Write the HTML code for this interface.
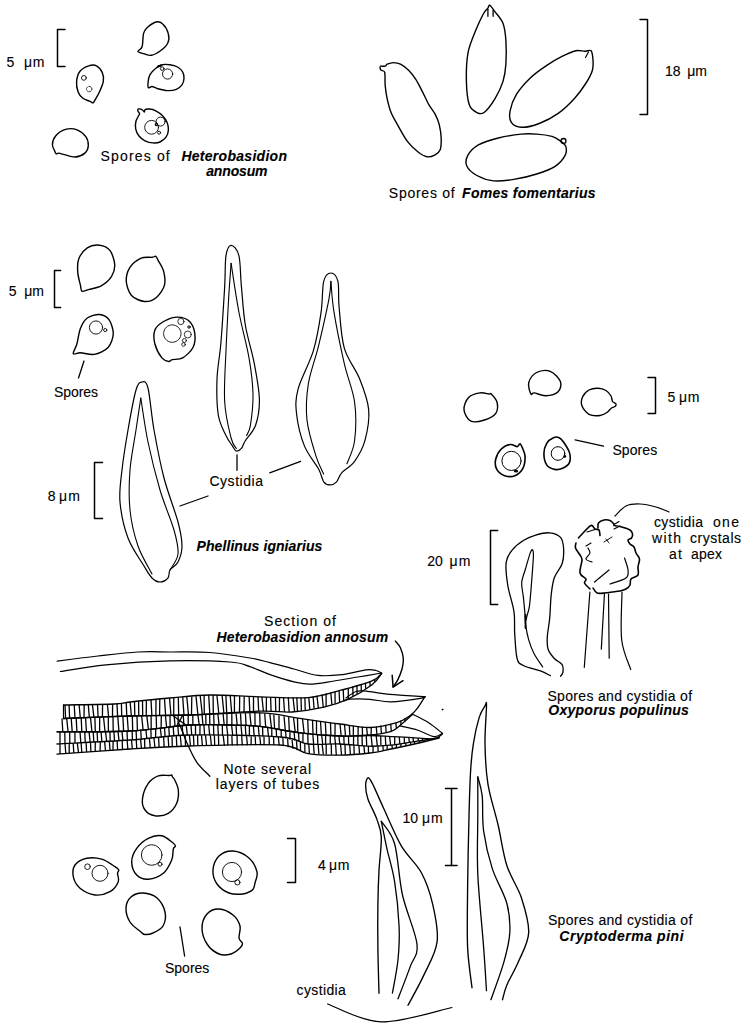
<!DOCTYPE html>
<html><head><meta charset="utf-8"><style>
html,body{margin:0;padding:0;background:#fff;}
body{width:750px;height:1031px;overflow:hidden;}
svg{display:block;}
text{font-family:"Liberation Sans",sans-serif;fill:#000;stroke:#000;stroke-width:0.12px;}
</style></head><body>
<svg width="750" height="1031" viewBox="0 0 750 1031">
<g fill="none" stroke="#000" stroke-linecap="round" stroke-linejoin="round">
<polyline points="65,29.5 57.5,29.5 57.5,66.5 65,66.5" stroke-width="1.5"/>
<path d="M137.9,51.4 C137.6,50.2 141.2,49.7 142.1,46.7 C143,43.8 142.7,36.8 143.5,33.7 C144.3,30.6 144.7,29.9 146.8,28 C148.9,26.1 153.3,22.7 156,22 C158.7,21.3 160.6,21.9 162.7,23.9 C164.8,25.8 167.5,30.5 168.3,33.7 C169.2,36.9 169.1,40.2 167.8,43 C166.6,45.8 163.5,48.5 160.8,50.5 C158.1,52.5 154.3,54.8 151.5,55.3 C148.7,55.8 146.3,54.4 144,53.7 C141.7,53.1 138.2,52.6 137.9,51.4Z" stroke-width="1.4"/>
<path d="M93.1,102.9 C93.8,102.8 93.7,102.3 94.6,100.7 C95.5,99.1 98.1,94.9 99.4,92 C100.7,89.1 102.9,84.2 103.3,81.3 C103.7,78.4 103.3,74.9 102.3,72.6 C101.3,70.3 98.5,66.8 96.5,65.8 C94.5,64.8 91.2,65 88.7,65.8 C86.2,66.6 81.8,68.9 80,71.2 C78.2,73.5 76.9,78.2 76.6,81.3 C76.3,84.4 77.2,89.5 78.1,92 C79,94.5 81.2,96.9 82.9,98.3 C84.6,99.7 88.2,100.5 89.7,101.2 C91.2,101.9 92.4,103 93.1,102.9Z" stroke-width="1.4"/>
<circle cx="83.9" cy="77.9" r="2.4" stroke-width="0.9"/>
<circle cx="89.2" cy="89.1" r="2.7" stroke-width="0.8" stroke-dasharray="1.3 1.2"/>
<path d="M148.4,87.8 C147.8,87.2 147.9,84.3 148.1,82.3 C148.3,80.3 148.8,76.7 150,74.6 C151.2,72.5 154,69.7 155.8,68.2 C157.6,66.7 160.1,65.2 162.2,64.7 C164.3,64.2 167.6,64.4 169.9,64.7 C172.2,65 175.7,65.9 177.6,67 C179.5,68.1 181.7,70.4 182.7,72.1 C183.7,73.8 184.1,76.6 184,78.5 C183.9,80.4 183.2,83.3 182,84.9 C180.8,86.5 178.5,88.5 176.3,89.4 C174.1,90.3 170.1,90.7 167.3,90.6 C164.5,90.5 160,89.3 157.7,88.7 C155.4,88.1 153.4,86.6 152,86.5 C150.6,86.4 149,88.4 148.4,87.8Z" stroke-width="1.4"/>
<circle cx="167.6" cy="74" r="5.1" stroke-width="0.9"/>
<circle cx="162.2" cy="68.6" r="1.8" stroke-width="0.9"/>
<path d="M158,66.5 C158.5,66.3 160.5,65.7 161,65.5" stroke-width="2"/>
<path d="M138.4,109 C138.9,108.9 141.3,109.2 142,109.6 C142.7,109.9 144.1,112 144.4,112 C144.8,112 144.4,109.9 145,109.6 C145.6,109.2 147.9,108.9 149.2,109 C150.5,109.1 154.3,110 155.8,110.8 C157.3,111.6 161.1,114.2 162.4,115.6 C163.7,117 166.5,121.1 167.2,122.8 C167.9,124.5 168.5,128.3 168.4,130 C168.3,131.7 167,135.8 166,137.2 C165,138.6 161.5,141.3 160,142 C158.5,142.7 154.6,143 152.8,142.9 C151.1,142.8 146.6,141.6 145,140.8 C143.4,140 140.1,137.4 139,136 C137.9,134.6 136,130.6 135.7,128.8 C135.3,127.1 135.6,122.6 136,121 C136.4,119.4 138.6,115.8 139,115 C139.4,114.2 139.7,114.3 139.6,113.8 C139.5,113.3 137.9,111.4 137.8,110.8 C137.7,110.2 137.9,109.1 138.4,109Z" stroke-width="1.4"/>
<circle cx="151.6" cy="127.3" r="6.9" stroke-width="0.9"/>
<circle cx="160.6" cy="121.6" r="4.5" stroke-width="0.9"/>
<circle cx="159.1" cy="132.7" r="1.5" stroke-width="0.9"/>
<circle cx="156.4" cy="124.5" r="1.1" stroke-width="1.2"/>
<path d="M56.2,153.8 C55.6,153.5 55.4,152.6 54.8,151.2 C54.2,149.8 52.2,146.7 52.4,144.4 C52.5,142.1 53.8,137.9 55.8,135.7 C57.8,133.4 62.3,130.3 65.5,129.4 C68.7,128.5 74.1,128.7 77.1,129.8 C80.1,130.9 84.1,134.3 85.8,136.6 C87.5,138.9 88.4,142.9 88.3,145.4 C88.2,147.9 86.9,151.4 84.9,153.1 C82.9,154.8 78.3,156.8 75.2,157 C72.1,157.2 67,155.2 64.5,154.6 C62,154 59.9,153.2 58.7,153.1 C57.5,153 56.8,154.1 56.2,153.8Z" stroke-width="1.4"/>
<path d="M380.6,66.2 C381.4,65.9 384.2,66.5 385.2,66.2 C386.2,65.9 386,64.7 387.2,64.2 C388.4,63.7 391.4,62.6 393.4,62.6 C395.4,62.6 398.2,63 400.5,64.2 C402.8,65.4 406.3,68 408.6,70.3 C410.9,72.6 413.8,76.4 415.8,79.4 C417.8,82.4 419.9,86.8 421.9,90.6 C423.9,94.4 427,101.4 429,104.9 C431,108.4 433.6,111.2 435.1,114.1 C436.6,117 438.3,120.6 439.2,124.3 C440.1,128 441.1,134.7 441.2,138.5 C441.3,142.3 441.1,147.3 440.2,149.7 C439.3,152.1 437.1,153.7 435.1,154.8 C433.1,155.9 429.6,157.2 427,156.8 C424.4,156.4 420.7,154.1 417.8,151.8 C414.9,149.5 410.3,145.1 407.6,141.6 C404.9,138.1 401.9,132.6 399.5,128.3 C397.1,124 393.1,117.5 391.3,113.1 C389.5,108.7 388.1,102.9 387.2,98.8 C386.3,94.7 385.6,89.6 385.2,85.6 C384.8,81.6 385.3,74.6 384.7,72.3 C384.1,70 381.8,70.9 381.1,70.3 C380.4,69.7 380.2,68.8 380.1,68.2 C380,67.6 379.8,66.5 380.6,66.2Z" stroke-width="1.4"/>
<path d="M489.7,5.2 C490.8,5.7 492.9,8.9 494.9,11.6 C496.9,14.3 501.4,18.9 503,23.3 C504.6,27.7 505.5,34.6 505.9,40.7 C506.3,46.8 506.3,57.9 505.9,64 C505.5,70.1 504.6,76.2 503,81.4 C501.4,86.6 497.7,94.2 494.9,98.8 C492.1,103.4 487,110.1 484.4,112.2 C481.8,114.3 479.7,113.9 477.4,112.8 C475.1,111.7 470.9,109.4 469.3,104.7 C467.7,100 466.6,89.3 466.4,81.4 C466.2,73.5 466.6,60.1 468.1,52.3 C469.6,44.5 474,34.8 476.3,29.1 C478.6,23.4 481.6,17.1 483.3,14 C485,10.8 486.9,9.4 487.9,8.1 C488.9,6.8 488.6,4.7 489.7,5.2Z" stroke-width="1.4"/>
<line x1="487.9" y1="9.3" x2="487.9" y2="16.3" stroke-width="1.3"/>
<line x1="493.1" y1="10.5" x2="493.1" y2="16.3" stroke-width="1.3"/>
<path d="M591.1,50.7 C592.3,52 592.8,57.3 593,60.2 C593.2,63.1 593.4,66.9 592.4,70.3 C591.4,73.7 588.8,78.8 586.1,83 C583.4,87.2 578.9,93.6 574.7,98.2 C570.5,102.8 563.5,109.6 558.2,113.4 C552.9,117.2 544.7,121.4 539.2,123.5 C533.7,125.6 525.7,127.5 521.5,127.3 C517.3,127.1 513,124.8 511.3,122.3 C509.6,119.8 509.3,115.1 510.1,110.9 C510.9,106.7 513.4,99.4 516.4,94.4 C519.4,89.5 525.7,82.3 530.3,77.9 C534.9,73.5 542,68.5 546.8,65.3 C551.6,62.1 557.6,58.6 562,56.4 C566.4,54.2 572.5,51.5 575.9,50.7 C579.3,49.9 582.5,51.3 584.8,51.3 C587.1,51.3 589.9,49.4 591.1,50.7Z" stroke-width="1.4"/>
<line x1="588.5" y1="52" x2="585.5" y2="57.5" stroke-width="1.2"/>
<path d="M560.4,141 C558.3,139.5 555.6,137.4 552,136.4 C548.4,135.4 541.3,134.4 536.7,134.1 C532.1,133.8 527.1,133.5 521.3,134.1 C515.5,134.7 504.7,136.4 498.3,138 C491.9,139.6 483,142.3 478.4,144.9 C473.8,147.5 469.4,152.4 467.7,155.6 C466,158.8 465.5,163.3 466.9,166.3 C468.3,169.3 472.9,173.3 476.9,175.5 C480.9,177.7 488.2,180.3 493.7,180.9 C499.2,181.5 507.3,180.4 513.7,179.4 C520.2,178.4 530.5,176 536.7,174 C542.9,172 550.9,169.1 555.1,166.3 C559.3,163.5 563.4,158.6 565,155.6 C566.6,152.6 566.5,148.6 565.8,146.4 C565.1,144.2 562.5,142.5 560.4,141Z" stroke-width="1.4"/>
<circle cx="563.5" cy="141" r="2.5" stroke-width="1.3"/>
<polyline points="640,19.5 647.5,19.5 647.5,114.5 640,114.5" stroke-width="1.5"/>
<polyline points="60.6,270.5 54.5,270.5 54.5,307.5 60.6,307.5" stroke-width="1.5"/>
<path d="M82.1,291.3 C80.8,290.7 81,287.9 80.4,285.1 C79.8,282.3 78.1,276.8 77.8,272.9 C77.5,269 77.3,262.9 78.7,259.1 C80.1,255.3 84.2,249.9 87.3,247.8 C90.4,245.7 96.1,244.8 99.5,245.2 C102.9,245.6 107.6,247.5 109.9,250.4 C112.2,253.3 114.4,260.4 114.7,264.3 C115,268.2 113.6,273.2 111.6,276.4 C109.6,279.6 104.6,283.9 101.2,285.9 C97.8,287.8 92,288.6 89.1,289.4 C86.2,290.2 83.4,291.9 82.1,291.3Z" stroke-width="1.4"/>
<path d="M155.8,256.3 C156.7,256.8 157.2,258.6 158.4,260.8 C159.6,263 162.7,267.6 163.6,271.2 C164.5,274.8 165.5,281.2 164.5,285.1 C163.5,289 159.7,294.7 156.7,297.2 C153.7,299.7 148.3,301.8 144.5,301.5 C140.7,301.2 134.2,298.5 131.5,295.5 C128.8,292.5 126.6,285.8 126.3,281.6 C126,277.4 127.6,271.2 129.8,267.7 C132,264.2 137.7,259.8 141.1,258.2 C144.5,256.6 150.1,257.6 152.3,257.3 C154.5,257 154.9,255.8 155.8,256.3Z" stroke-width="1.4"/>
<path d="M73.3,353.7 C72.8,352.4 75.8,347.8 76.9,344 C78,340.2 78.8,332.3 80.4,328.4 C82,324.5 84.4,320.1 87.3,318 C90.2,315.9 96.2,314.2 99.5,314.5 C102.8,314.8 106.9,316.8 109,319.7 C111.1,322.6 113.4,329.4 113.3,333.6 C113.2,337.8 110.9,344.4 108.1,347.5 C105.2,350.6 98.5,353.6 94.3,354.4 C90.1,355.2 83.6,352.8 80.4,352.7 C77.2,352.6 73.8,355 73.3,353.7Z" stroke-width="1.4"/>
<circle cx="96" cy="327.5" r="6.6" stroke-width="0.9"/>
<circle cx="105.2" cy="330.1" r="1.6" stroke-width="0.9"/>
<path d="M168.8,361.5 C167.2,361.2 164,360.5 161.9,357.9 C159.8,355.3 156,348.2 154.9,344 C153.8,339.8 153.6,333.5 154.9,330.1 C156.2,326.7 160.2,323.4 163.6,321.5 C167,319.6 173.6,317.1 177.5,317.1 C181.4,317.1 187,319 189.6,321.5 C192.2,324 194.3,329.7 194.8,333.6 C195.3,337.5 194.8,343.9 193,347.5 C191.2,351.1 185.8,356.1 182.7,357.9 C179.6,359.7 174.4,359.1 172.3,359.6 C170.2,360.1 170.4,361.8 168.8,361.5Z" stroke-width="1.4"/>
<circle cx="172.3" cy="333.6" r="8.7" stroke-width="0.9" stroke-dasharray="2.5 0.8"/>
<circle cx="187.8" cy="334.5" r="3.5" stroke-width="0.8"/>
<circle cx="180.9" cy="321.5" r="3.1" stroke-width="0.8"/>
<circle cx="184.4" cy="340.5" r="2" stroke-width="0.8"/>
<circle cx="183.5" cy="344.5" r="1.8" stroke-width="0.8"/>
<circle cx="189" cy="327" r="1.2" stroke-width="1"/>
<line x1="84" y1="361" x2="78.5" y2="378" stroke-width="1.3"/>
<path d="M231.1,245.3 C233.2,245.3 237.2,248.8 238.9,255.6 C240.6,262.4 240.3,274.8 241.4,286.4 C242.5,298 243.2,312.1 245.3,325 C247.5,337.9 252,351.2 254.3,363.6 C256.6,376 259.2,389.3 259.4,399.6 C259.6,409.9 257.9,418.5 255.6,425.3 C253.2,432.1 247.7,436.9 245.3,440.7 C242.9,444.5 242.9,446.7 241.4,448.4 C239.9,450.1 237.8,451.4 236.3,451 C234.8,450.6 234.1,448.5 232.4,445.9 C230.7,443.3 228.3,440.8 226,435.6 C223.7,430.5 219.8,424.4 218.3,415 C216.8,405.6 216.6,391 217,379 C217.4,367 219.6,358.4 220.9,343 C222.2,327.6 223.8,301 224.7,286.4 C225.5,271.8 224.9,262.4 226,255.6 C227.1,248.8 228.9,245.3 231.1,245.3Z" stroke-width="1.2"/>
<path d="M231.1,263.3 C230.7,269.3 229.4,284.7 228.6,299.3 C227.8,313.9 226.7,333.6 226,350.7 C225.3,367.8 223.8,387.4 224.7,402 C225.5,416.6 229.2,430.3 231.1,438 C233,445.7 235.4,446.7 236.3,448.4" stroke-width="1.1"/>
<path d="M231.1,263.3 C232.4,271.4 235.9,296.1 238.9,312 C241.9,327.9 246.8,344.7 249.1,358.4 C251.4,372.1 252.8,383.2 253,394.4 C253.2,405.5 251.5,418.4 250.4,425.3 C249.3,432.2 247.2,433.9 246.6,435.6" stroke-width="1.1"/>
<path d="M330.9,273 C333.3,273 336.5,275.6 337.9,281.3 C339.3,287 338,295.9 339.1,307 C340.2,318.1 340.9,336.1 344.3,348.1 C347.7,360.1 355.6,368.7 359.7,379 C363.8,389.3 367.8,399.6 368.7,409.9 C369.6,420.2 367.2,432.1 364.9,440.7 C362.5,449.3 358.5,455.9 354.6,461.3 C350.7,466.7 344.7,469.4 341.7,472.8 C338.7,476.2 338.5,479.8 336.6,481.8 C334.7,483.8 332.2,484.9 330.1,484.9 C328,484.9 325.6,484.4 323.7,481.8 C321.8,479.2 321.8,475 318.6,469 C315.4,463 308,454.9 304.4,445.9 C300.8,436.9 297.8,424.4 296.7,415 C295.6,405.6 295.2,400 298,389.3 C300.8,378.6 309.5,363.6 313.4,350.7 C317.2,337.8 319.4,323.7 321.1,312.1 C322.8,300.5 322.1,287.8 323.7,281.3 C325.3,274.8 328.5,273 330.9,273Z" stroke-width="1.2"/>
<path d="M330.9,281.3 C330.6,284.3 330.9,288.6 328.9,299.3 C326.8,310 322,331.5 318.6,345.6 C315.2,359.7 310.2,371.7 308.3,384.1 C306.4,396.5 305.7,408.1 307,420.1 C308.3,432.1 313.2,447.1 316,456.1 C318.8,465.1 322.4,471.1 323.7,474.1" stroke-width="1.1"/>
<path d="M330.9,281.3 C331.4,286.4 331.8,298.4 334,312.1 C336.2,325.8 340.9,348.6 344.3,363.6 C347.7,378.6 352.9,389.2 354.6,402.1 C356.3,415 355.9,430.4 354.6,440.7 C353.3,451 348.2,459.9 346.9,463.8" stroke-width="1.1"/>
<path d="M142,382 C144,381.7 146,380 148,388 C150,396 151.3,415 154,430 C156.7,445 160,462.7 164,478 C168,493.3 175,510.7 178,522 C181,533.3 182,539.3 182,546 C182,552.7 180,558 178,562 C176,566 171.7,567.3 170,570 C168.3,572.7 169.7,576 168,578 C166.3,580 162.7,582 160,582 C157.3,582 154.7,580.7 152,578 C149.3,575.3 148,572.7 144,566 C140,559.3 132,548.7 128,538 C124,527.3 121,513.3 120,502 C119,490.7 120.7,482 122,470 C123.3,458 125.7,443.3 128,430 C130.3,416.7 133.7,398 136,390 C138.3,382 140,382.3 142,382Z" stroke-width="1.2"/>
<path d="M140.8,398 C140,403.3 137.8,418 136,430 C134.2,442 131,456.7 130,470 C129,483.3 128.7,497.3 130,510 C131.3,522.7 134.3,535.3 138,546 C141.7,556.7 149.7,569.3 152,574" stroke-width="1.1"/>
<path d="M140.8,398 C142,405.3 144.8,426.7 148,442 C151.2,457.3 155.7,475.3 160,490 C164.3,504.7 171,519.3 174,530 C177,540.7 178.7,547.3 178,554 C177.3,560.7 171.3,567.3 170,570" stroke-width="1.1"/>
<line x1="237" y1="454.8" x2="237" y2="470.3" stroke-width="1.3"/>
<line x1="269.7" y1="472.8" x2="300.6" y2="461.3" stroke-width="1.3"/>
<line x1="180" y1="506" x2="208" y2="496" stroke-width="1.3"/>
<polyline points="102.5,462.5 94.5,462.5 94.5,518.5 102.5,518.5" stroke-width="1.5"/>
<path d="M491.3,394 C492.6,395.3 496.2,398.8 497,402 C497.8,405.2 497.9,410.3 495.8,413.3 C493.7,416.3 488.6,418.7 484.5,420 C480.4,421.3 474.3,422.9 470.9,421.2 C467.5,419.5 464.4,413.9 464,409.9 C463.6,405.9 465.9,400.2 468.6,397.4 C471.3,394.6 476.6,393.5 480,392.9 C483.4,392.3 487.1,393.8 489,394 C490.9,394.2 490,392.7 491.3,394Z" stroke-width="1.4"/>
<path d="M530.9,394 C530,392.3 527.8,386.3 528.7,382.7 C529.7,379.1 533,374.4 536.6,372.5 C540.2,370.6 546.2,369.8 550.2,371.3 C554.2,372.8 559.1,378.1 560.4,381.5 C561.7,384.9 560.5,389.3 558.1,391.7 C555.7,394.1 549.7,395.6 545.7,395.8 C541.7,396 536.8,393.2 534.3,392.9 C531.8,392.6 531.8,395.7 530.9,394Z" stroke-width="1.4"/>
<path d="M612.5,401.5 C613.2,402.7 615.6,403.2 616,404 C616.4,404.8 615.7,405.9 615,406.5 C614.3,407.1 612.7,407.1 611.5,408 C610.3,408.9 608.7,411.4 607,412.5 C605.3,413.6 602.7,415.2 600,415.5 C597.3,415.8 591.7,415.8 589,414.4 C586.3,413 583,408.6 582,406 C581,403.4 581.5,399.4 582.5,397 C583.5,394.6 586.7,391.3 589,390 C591.3,388.7 595.5,388.2 598,388.3 C600.5,388.4 604,389.3 606,390.5 C608,391.7 610,394.4 611,396 C612,397.6 611.8,400.3 612.5,401.5Z" stroke-width="1.4"/>
<path d="M520,443.7 C519.1,443.4 518.6,446.6 517.2,446.7 C515.8,446.8 512.8,444.2 510.4,444.5 C508,444.8 503.5,446.8 501.3,449 C499.1,451.2 496.4,456.1 495.7,459.2 C495,462.3 495.4,466.9 496.8,469.4 C498.2,471.9 502,474.8 504.7,475.7 C507.4,476.6 512.2,476.8 514.9,475.7 C517.6,474.6 521.4,471.1 522.9,468.3 C524.4,465.5 525.1,459.8 525.1,456.9 C525.1,454 523.7,451 522.9,449 C522.1,447 520.9,444 520,443.7Z" stroke-width="1.6"/>
<circle cx="511.5" cy="460.9" r="9.6" stroke-width="1.0"/>
<ellipse cx="516" cy="471" rx="2.2" ry="1.6" fill="#000" stroke="none"/>
<path d="M559.2,437.7 C560.7,438.4 562.2,440 563.7,442.2 C565.2,444.4 568.5,449.3 569.4,452.4 C570.3,455.5 570.4,460.2 569.4,462.6 C568.4,465 564.8,467.3 562.6,468.3 C560.4,469.3 557,469.9 554.6,469.4 C552.2,468.9 548.3,467.3 546.7,464.9 C545.1,462.5 543.9,456.7 543.9,453.5 C543.9,450.3 545.3,445.7 546.7,443.3 C548.1,440.9 551.6,438.5 553.5,437.7 C555.4,436.9 557.7,437 559.2,437.7Z" stroke-width="1.6"/>
<circle cx="558" cy="453.5" r="6.8" stroke-width="1.0"/>
<circle cx="564.8" cy="456.4" r="1.4" fill="#000" stroke="none"/>
<line x1="575.1" y1="439.8" x2="603.5" y2="446.1" stroke-width="1.3"/>
<polyline points="648,377.5 655.5,377.5 655.5,413.5 648,413.5" stroke-width="1.5"/>
<polyline points="497.7,530.5 490.5,530.5 490.5,604.5 497.7,604.5" stroke-width="1.5"/>
<path d="M550.4,675.6 C548.7,674.8 544.9,672.6 540.4,670.9 C535.9,669.2 527.2,667.6 523.3,665.5 C519.4,663.4 518.5,663.8 517.1,658.5 C515.7,653.2 515.2,641.4 514.7,633.6 C514.2,625.8 515.1,619.9 514,611.9 C512.9,603.9 509.1,593.8 507.8,585.5 C506.5,577.2 505.4,568.2 506.2,562.2 C507,556.2 509.5,553.4 512.4,549.8 C515.2,546.2 519.4,543 523.3,540.5 C527.2,538 531.3,536.4 535.7,535.1 C540.1,533.8 545.6,532.4 549.7,532.8 C553.8,533.2 558.2,534.8 560.5,537.4 C562.8,540 563.3,543.9 563.6,548.3 C563.9,552.7 563.7,558.9 562.1,563.8 C560.5,568.7 556.1,572.6 554.3,577.8 C552.5,583 552,588.1 551.2,594.8 C550.4,601.5 550.4,611.1 549.7,618.1 C549.1,625.1 547.6,631.5 547.3,636.7 C547,641.9 546.9,645.6 548.1,649.2 C549.3,652.8 552,655.9 554.3,658.5 C556.6,661.1 560.7,662.4 562.1,664.7 C563.5,667 563.2,670.5 562.9,672.4 C562.6,674.3 560.9,675.6 560.5,676.3" stroke-width="1.3"/>
<path d="M542.7,667 C541.3,664.8 536.4,658.3 534.1,653.8 C531.8,649.3 530.1,644.8 528.7,639.9 C527.3,635 526.2,629 525.6,624.3 C525,619.6 525.2,616.5 524.8,611.9 C524.4,607.2 523.8,601.3 523.3,596.4 C522.8,591.5 521.3,587 521.7,582.4 C522.1,577.8 524.2,573.4 525.6,568.5 C527,563.6 529.1,556 530.3,552.9 C531.5,549.8 532.1,549.3 532.6,549.8 C533.1,550.3 533.5,551.1 533.4,556 C533.3,560.9 532.4,571 531.8,579.3 C531.1,587.6 530.3,599.8 529.5,605.7 C528.7,611.7 527.9,612.4 527.2,615 C526.6,617.6 525.9,620.2 525.6,621.2" stroke-width="1.2"/>
<line x1="525.5" y1="615" x2="525.5" y2="628" stroke-width="1.8"/>
<path d="M578.5,538 C579.2,537.2 580.9,535.1 583,533 C585.1,530.9 589,526.2 591,525.5 C593,524.8 593.7,528.2 595,529 C596.3,529.8 598.2,528.9 599,530 C599.8,531.1 599.8,534.6 600,535.5" stroke-width="1.6"/>
<path d="M598,528 C598.1,527.2 597.5,524.3 598.5,523 C599.5,521.7 602.1,520.4 604,520 C605.9,519.6 608.4,519.9 610,520.5 C611.6,521.1 612.8,522.8 613.5,523.5 C614.2,524.2 613.9,524.8 614,525" stroke-width="1.6"/>
<path d="M614,525.5 C615,525.7 617.3,525.8 620,526.5 C622.7,527.2 627.9,528.8 630,530 C632.1,531.2 632.2,532.7 632.5,534 C632.8,535.3 632.2,537 631.5,538 C630.8,539 628.2,539 628,540 C627.8,541 629,542.8 630,544 C631,545.2 633,545.5 634,547 C635,548.5 635.1,551 636,553 C636.9,555 639.2,556.7 639.5,559 C639.8,561.3 638.2,564.3 638,567 C637.8,569.7 639.2,573 638,575 C636.8,577 632.3,577.3 631,579 C629.7,580.7 630.8,583.3 630,585 C629.2,586.7 627.7,588 626,589 C624.3,590 622.3,590.5 620,591 C617.7,591.5 614.5,591.7 612,592 C609.5,592.3 607.5,592.8 605,593 C602.5,593.2 599,593.8 597,593 C595,592.2 593.7,588.8 593,588" stroke-width="1.6"/>
<path d="M576,543 C575.9,543.8 574.8,546 575.5,548 C576.2,550 578.9,553 580,555 C581.1,557 582,557 582,560 C582,563 579.3,569.8 580,573 C580.7,576.2 585.2,577.3 586,579 C586.8,580.7 583.8,581.3 584.5,583 C585.2,584.7 589.1,588 590,589" stroke-width="1.6"/>
<path d="M587,532 C588.3,531.6 593.7,529.9 595,529.5" stroke-width="1.1"/>
<path d="M586,546 C586.8,545.5 590.2,543.5 591,543" stroke-width="1.1"/>
<path d="M588,548 C588.3,548.8 590.3,551.2 590,553 C589.7,554.8 585.7,557.5 586,559 C586.3,560.5 591,561.5 592,562" stroke-width="1.2"/>
<path d="M604,542 C605.3,541.2 610.7,537.8 612,537" stroke-width="1.0"/>
<path d="M606,539 C606.5,539.7 608.5,542.3 609,543" stroke-width="1.0"/>
<path d="M594.5,582 C596.9,580 606.6,572 609,570" stroke-width="1.2"/>
<path d="M610,584 C612.7,583 623,580.3 626,578 C629,575.7 628.2,573.3 628,570 C627.8,566.7 625.1,560 624.5,558" stroke-width="1.2"/>
<path d="M614,524.5 C614.8,524 618.2,522 619,521.5" stroke-width="1.1"/>
<path d="M614,529 C615,528.5 619,526.5 620,526" stroke-width="1.1"/>
<line x1="589.9" y1="592" x2="584.3" y2="667.3" stroke-width="1.2"/>
<line x1="604.5" y1="593" x2="601.3" y2="649.1" stroke-width="1.2"/>
<line x1="608.5" y1="594" x2="609.2" y2="658.2" stroke-width="1.2"/>
<path d="M622,592 C622,600 620.2,627.1 621.7,640 C623.2,652.9 629.2,664.6 630.7,669.5" stroke-width="1.2"/>
<path d="M615,516 C616.8,514.3 621.8,508 626,506 C630.2,504 635,503.8 640,504 C645,504.2 651.2,505.7 656,507 C660.8,508.3 666.8,511.2 669,512" stroke-width="1.2"/>
<path d="M57.2,661.1 C64,660.2 84.5,657.5 98,656 C111.5,654.5 126,652.7 138,652 C150,651.3 158,651.9 170,652 C182,652.1 196.7,651.5 210,652.5 C223.3,653.5 240,656.3 250,658 C260,659.7 262.7,660.8 270,662.6 C277.3,664.4 286,666.9 294,669 C302,671.1 310,674.5 318,675.4 C326,676.3 334,675.5 342,674.6 C350,673.7 360.3,670.5 366,669.8 C371.7,669.1 373.4,670 376,670.5 C378.6,671 380.7,672.6 381.6,673" stroke-width="1.2"/>
<path d="M60.4,671.5 C68,670.4 87.7,666.6 106,664.8 C124.3,663 149.3,661.3 170,660.8 C190.7,660.3 216.7,661 230,662 C243.3,663 243.3,664.5 250,666.6 C256.7,668.7 262.7,672.1 270,674.6 C277.3,677.1 287.3,680.2 294,681.8 C300.7,683.4 303.3,684.3 310,684.2 C316.7,684.1 326,682.2 334,681 C342,679.8 350.1,678.3 358,677 C365.9,675.7 377.7,673.7 381.6,673" stroke-width="1.2"/>
<path d="M395.4,641.1 C396.2,642.2 399.1,644.9 400.4,647.8 C401.7,650.7 403,654.8 403.3,658.3 C403.6,661.8 403.1,665.1 402.1,668.8 C401.1,672.5 399,677.4 397.5,680.4 C396,683.4 393.8,685.7 393.1,686.8" stroke-width="1.4"/>
<polyline points="392.2,675.2 393.1,687.1 403,680.7" stroke-width="1.5"/>
<circle cx="442.4" cy="709.6" r="0.5" stroke-width="1"/>
<path d="M179.4,724 C180.9,727.6 185.3,739.4 188.2,745.8 C191.1,752.2 193.4,757.5 197,762.6 C200.6,767.7 207.7,773.9 209.8,776.2" stroke-width="1.3"/>
<path d="M171.7,775 C171.1,774.8 171.4,775.4 169.2,775.5 C167,775.6 161.8,774.5 158.3,775.8 C154.8,777.1 150.9,779.5 148.3,783.3 C145.7,787 143.1,793.8 142.5,798.3 C141.9,802.8 142.9,807.1 145,810 C147.1,812.9 151.1,815.2 155,815.8 C158.9,816.3 164.7,815.4 168.3,813.3 C171.9,811.2 175,807.2 176.7,803.3 C178.4,799.4 178.7,794 178.3,790 C177.9,786 175.5,781.7 174.5,779.5 C173.5,777.3 173,777.8 172.5,777 C172,776.2 172.2,775.2 171.7,775Z" stroke-width="1.4"/>
<path d="M175.5,846 C175.4,844.9 174.8,844.2 172.5,842.5 C170.2,840.8 165.7,836.5 161.7,835.8 C157.7,835.1 152.5,836.2 148.3,838.3 C144.1,840.4 139.5,844.4 136.7,848.3 C133.9,852.2 131.7,857.2 131.7,861.7 C131.7,866.2 133.9,872.1 136.7,875 C139.5,877.9 143.9,879.5 148.3,879.2 C152.7,878.9 159.4,876.5 163.3,873.3 C167.2,870.1 170,864 171.7,860 C173.4,856 172.7,851.3 173.3,849 C173.9,846.7 175.6,847.1 175.5,846Z" stroke-width="1.4"/>
<circle cx="151.7" cy="855" r="10.3" stroke-width="0.9"/>
<circle cx="160" cy="864.2" r="2" stroke-width="0.9"/>
<path d="M118.8,870 C118.4,868.9 117.8,868.5 115,866.7 C112.2,864.9 106.4,860.6 101.7,859.2 C97,857.8 91.2,857.3 86.7,858.3 C82.2,859.3 77.2,861.9 75,865 C72.8,868.1 72.5,872.8 73.3,876.7 C74.1,880.6 76.4,885.2 80,888.3 C83.6,891.3 90,894.4 95,895 C100,895.6 106.1,893.9 110,891.7 C113.9,889.5 117,884.8 118.3,881.7 C119.5,878.6 117.4,875.2 117.5,873.3 C117.6,871.3 119.2,871.1 118.8,870Z" stroke-width="1.4"/>
<circle cx="100" cy="873.3" r="8" stroke-width="0.9"/>
<circle cx="87.5" cy="866.7" r="2.8" stroke-width="0.9"/>
<path d="M253.5,888.5 C254.2,887.2 254.4,885.8 255,883 C255.6,880.2 258,876.2 257,872 C256,867.8 253,861.5 249,858 C245,854.5 238,851.3 233,851 C228,850.7 222.3,852.8 219,856 C215.7,859.2 213.3,865.3 213,870 C212.7,874.7 214.3,880.2 217,884 C219.7,887.8 224.7,891.3 229,893 C233.3,894.7 239.3,894.3 243,894 C246.7,893.7 249.2,891.9 251,891 C252.8,890.1 252.8,889.8 253.5,888.5Z" stroke-width="1.4"/>
<circle cx="232" cy="872" r="9.6" stroke-width="0.9"/>
<circle cx="237.4" cy="882.4" r="2.6" stroke-width="0.9"/>
<path d="M145,934.5 C143,934.3 143.5,934.1 141,932 C138.5,929.9 132.5,926 130,922 C127.5,918 125.8,912.2 126,908 C126.2,903.8 128.2,899.5 131,897 C133.8,894.5 138.7,892.8 143,893 C147.3,893.2 153.3,894.8 157,898 C160.7,901.2 164,907.3 165,912 C166,916.7 165,922.5 163,926 C161,929.5 156,931.6 153,933 C150,934.4 147,934.7 145,934.5Z" stroke-width="1.4"/>
<path d="M242.5,943.5 C242.3,941.8 239.4,940.9 239,938 C238.6,935.1 241,929.8 240,926 C239,922.2 236.5,917.8 233,915 C229.5,912.2 223.3,909.2 219,909 C214.7,908.8 209.8,910.8 207,914 C204.2,917.2 202,923 202,928 C202,933 204.2,939.7 207,944 C209.8,948.3 215,952.3 219,954 C223,955.7 227.5,955 231,954 C234.5,953 238.1,949.8 240,948 C241.9,946.2 242.7,945.2 242.5,943.5Z" stroke-width="1.4"/>
<line x1="180" y1="927" x2="184.6" y2="956" stroke-width="1.3"/>
<polyline points="287.5,838.5 295.5,838.5 295.5,882.5 287.5,882.5" stroke-width="1.5"/>
<path d="M327.5,1004 C336.5,1007 360.6,1021.3 381.3,1021.9 C402.1,1022.5 440.2,1009.9 452,1007.5" stroke-width="1.2"/>
<path d="M379,993.2 C378.8,985.8 378.1,963.5 377.9,948.6 C377.7,933.7 377.7,916.9 377.9,903.9 C378.1,890.9 378.4,881.5 379,870.4 C379.6,859.2 381.7,845.5 381.3,837 C380.9,828.5 379,825.4 376.8,819.1 C374.6,812.8 369.8,804.6 367.9,799 C366,793.4 365.6,789.1 365.6,785.6 C365.6,782.1 366.8,778.2 367.9,777.8 C369,777.4 369.7,778.4 372.3,783.4 C374.9,788.4 378.7,797.6 383.5,808 C388.3,818.4 395,835.1 401.3,845.9 C407.6,856.7 416.2,863 421.4,872.7 C426.6,882.4 430,892.4 432.6,903.9 C435.2,915.4 438.6,930 437.1,941.9 C435.6,953.8 428.6,964.8 423.7,975.4 C418.8,986 410.6,1000.3 408,1005.3" stroke-width="1.35"/>
<path d="M381.3,821.3 C382.2,825.8 384.6,838 386.8,848.1 C389,858.2 392.6,868.6 394.6,881.6 C396.7,894.6 398.5,913.3 399.1,926.3 C399.7,939.3 399.1,948.6 398,959.7 C396.9,970.9 393.3,987.6 392.4,993.2" stroke-width="1.3"/>
<path d="M381.3,821.3 C383.5,825 391.1,831.4 394.6,843.7 C398.1,856 398.8,878.3 402.5,895 C406.2,911.7 415.7,932.2 417,944.1 C418.3,956 413.5,957.3 410.3,966.4 C407.1,975.5 400.1,993.4 398,998.8" stroke-width="1.3"/>
<path d="M472,987.8 C471.3,981 468.3,963.6 467.6,947.1 C466.9,930.6 467.4,910.8 467.6,889 C467.8,867.2 468.5,835.7 469,816.3 C469.5,796.9 469.8,784.8 470.5,772.7 C471.2,760.6 471.9,752.8 473.4,743.6 C474.8,734.4 477.3,723.7 479.2,717.4 C481.1,711.1 483.8,707.7 485,705.8 C486.2,703.9 486.5,699.5 486.5,705.8 C486.5,712.1 484.8,730.5 485,743.6 C485.2,756.7 485.8,770.7 488,784.3 C490.2,797.9 495,811.4 498.1,825 C501.2,838.6 503,853.6 506.9,865.7 C510.8,877.8 517.8,886.6 521.4,897.7 C525,908.9 529.2,922 528.7,932.6 C528.2,943.2 522.1,952.9 518.5,961.6 C514.9,970.3 509.6,978.5 506.9,984.9 C504.2,991.2 503.2,997.2 502.5,999.7" stroke-width="1.35"/>
<path d="M477.8,777 C477.8,783.5 477.8,800.1 477.8,816.3 C477.8,832.5 476.8,852.6 477.8,874.4 C478.8,896.2 482.2,927.7 483.6,947.1 C485.1,966.5 486,983.4 486.5,990.7" stroke-width="1.3"/>
<path d="M477.8,777 C478.5,780.1 481.2,786.9 482.2,795.9 C483.2,804.9 481.9,818.7 483.6,830.8 C485.3,842.9 488.4,856.5 492.3,868.6 C496.2,880.7 504,892.8 506.9,903.5 C509.8,914.2 510.3,922.9 509.8,932.6 C509.3,942.3 507.1,950.4 504,961.6 C500.9,972.8 493.1,993.4 490.9,999.7" stroke-width="1.3"/>
<polyline points="445.5,788.5 451.5,788.5 451.5,865.5 445.5,865.5" stroke-width="1.5"/>
<line x1="451.5" y1="788.5" x2="457" y2="788.5" stroke-width="1.5"/>
<line x1="451.5" y1="865.5" x2="457" y2="865.5" stroke-width="1.5"/>
<path d="M65,705L65.6,718.4M69.1,704.9L69.6,718.3M74.2,704.8L75,718.1M79.1,704.7L80.3,717.9M84.2,704.6L84,717.7M88.3,704.5L89.3,717.6M92.4,704.4L93.9,717.4M97.5,704.3L98.1,717.2M102.6,704.2L102.4,717M107.4,704.1L108.6,716.9M112.6,704L112.5,716.7M117,703.6L117.6,716.5M121.4,703.1L121.7,716.3M126.2,702.5L126.8,716.1M130.1,702L131.4,716M134.5,701.6L134.8,715.9M138.6,701.1L138.8,715.9M142.5,700.7L142.7,715.8M146.4,700.4L146.2,715.7M151,699.9L151.9,715.7M156,699.4L155.9,715.6M159.8,699L159.6,715.5M164.5,698.6L165.6,715.4M169.5,698L171,715.3M173.8,697.7L173.7,715.3M178.3,697.4L178.7,715.2M182.7,697L184,715.1M186.8,696.7L188.5,715.1M191.8,696.4L191.5,714.9M196,696.1L197.9,714.7M200.2,695.7L202.3,714.4M204.1,695.4L204.3,714.2M208.7,695.1L209.8,714M213.1,695.1L213.3,713.7M216.9,695.2L218.8,713.5M222.1,695.4L223.9,713.3M225.9,695.6L226.7,713.1M230.2,695.7L231.7,712.8M234.5,695.9L234.4,712.6M239.7,696.1L239.5,712.3M244.2,696.2L244,712.1M249.1,696.4L249.8,711.8M253.5,696.6L253.5,711.6M258,696.7L258.7,711.3M261.9,696.8L263.4,711.2M266.4,696.9L266.3,711.4M270.6,697L271.1,711.5M275.4,697.1L275.8,711.6M279.5,697.1L279.4,711.7M283.5,697.2L284.5,711.8M288.3,697.3L289.1,711.9M293,697.3L294.6,711.9M296.8,697.4L297.5,711.3M301,697.5L301.4,710.7M304.9,697.5L305.2,710.1M308.8,697.4L309.8,709.5M313.1,696.5L314.1,708.8M316.9,695.6L318.4,708.3M322,694.5L323.3,707.5M326.1,693.5L326.1,706.5M330.8,692.5L331.9,704.9M335,691.5L335.1,703.5M339.1,690.6L339.6,702.2M343.2,689.5L343.7,700.8M348.3,687.9L348.3,699M352.8,686.5L353,696.3M356.9,685.3L357.1,693.9M361.2,684L361.3,691.3M365.4,682.8L365.7,688.8M369.8,681.4L370.2,686.1M374.5,678.9L374.8,681.8M378.8,675.7L378.9,676.8" stroke-width="1.3" stroke-linecap="butt"/>
<path d="M62,718.5L62.8,731.7M66.7,718.4L68.1,731.7M71.2,718.2L72.2,731.6M76.2,718L76.9,731.6M81.2,717.8L81.8,731.5M85.6,717.7L86.4,731.5M90.5,717.5L91.9,731.4M94.9,717.3L95.3,731.4M99.7,717.1L99.6,731.3M103.5,717L105,731.3M108.3,716.8L108.4,731.2M113,716.6L113.2,731.2M117.8,716.5L118.9,731.1M122.9,716.3L123.6,731.1M127.2,716.1L128.3,731M132.3,716L132.7,730.8M137,715.9L137.4,730.3M141.6,715.8L143.1,729.8M146.8,715.7L148.4,729.3M151.1,715.6L151.2,728.9M156.2,715.6L156.5,728.4M161.3,715.5L161.1,727.9M165.4,715.4L166.6,727.5M170,715.3L170.1,727M174.1,715.3L175.1,726.6M178.2,715.2L178,726.2M183.3,715.1L183.9,725.7M188.2,715L188.2,725.2M192.8,714.9L192.9,725M197.9,714.8L199.2,725M202,714.6L203,725M205.8,714.5L205.9,725M209.7,714.4L209.8,725M213.7,714.3L214,725M217.9,714.1L219.1,725M223.1,714L224.2,725M226.9,713.8L227,725M231.8,713.7L231.9,725.1M236.1,713.6L237.2,725.3M240.5,713.4L241.2,725.5M245.4,713.3L246.1,725.7M249.8,713.1L251.1,725.9M254.9,713L255.1,726.2M259.7,712.8L260.1,726.4M264.7,713.5L265.7,727.2M269.8,714.2L271.5,728M273.8,714.7L274.6,728.6M279,715.5L279,729.4M284,716.2L285.3,730.2M288.7,716.8L289.3,731M293.5,717.5L295.2,731.8M297.5,718.1L297.8,732.4M302.5,718.7L304.1,733M307.7,719.5L308.3,733.4M312.5,720.1L313,733.8M316.5,720.7L316.5,734.1M320.5,721.3L321.3,734.4M325.3,721.9L326,734.8M330.5,722.7L330.9,735.2M335.1,723.3L335,735.6M340,724L341.2,736M344.5,724.5L345.5,735.9M349.3,725.1L349.9,735.7M353.4,725.6L353.3,735.6M358.1,726.1L358.1,735.4M362.3,726.6L362.5,735.3M366.6,727.1L367.4,735.1M371.3,727.3L371.1,734.8M376.2,726.4L376.9,733.9M380.8,725.5L381.4,733.1M385.6,724.7L386.1,732.3M390.7,723.8L391.3,731.4M395.8,722.9L396.4,728.2M400.8,720.5L401,724.7M404.7,718.4L405.1,721.3M409.2,716L409.2,717.3" stroke-width="1.3" stroke-linecap="butt"/>
<path d="M60,731.8L60,743.8M64.8,731.7L65,743.6M69.7,731.7L69.8,743.3M74.9,731.6L75,743M80,731.5L80.8,742.7M84.8,731.5L85.2,742.5M89,731.4L90.2,742.2M93.2,731.4L93.8,742M97.1,731.4L97.6,741.8M101,731.3L101.9,741.6M105.5,731.3L106.7,741.3M109.9,731.2L110.2,741.1M113.9,731.2L114.5,740.9M118,731.1L119,740.7M121.9,731.1L122.9,740.4M127,731L127.4,740.2M132.1,730.8L132.4,739.8M136.1,730.4L136.5,739.5M140.7,729.9L141.3,739.1M145.9,729.4L146.8,738.7M150.9,728.9L151.1,738.3M155.7,728.4L155.6,737.9M160.3,728L161.4,737.5M164.5,727.5L165.1,737.1M168.8,727.1L169.4,736.8M173.2,726.7L173.9,736.4M177.8,726.2L178.7,736M182.1,725.8L183.1,735.7M186.3,725.4L187.3,735.3M191,725L191.7,735M195.5,725L195.5,735.1M200,725L199.9,735.2M203.9,725L204.6,735.3M208.7,725L209.7,735.4M213.5,725L213.8,735.5M217.8,725L218.4,735.6M222.3,725L222.5,735.7M226.6,725L227.8,735.8M231.6,725.1L232.8,735.9M236.1,725.3L236.6,736M241,725.5L242,736.1M245.3,725.7L245.9,736.2M249.4,725.9L249.4,736.3M253.4,726.1L254.2,736.4M258.3,726.3L259.2,736.5M262.6,726.8L262.8,736.6M267.6,727.6L268.5,736.7M271.8,728.3L271.8,736.8M276.2,729L276.6,736.9M281.2,729.8L281.2,737.3M285.5,730.5L286.1,738.4M290,731.2L289.9,739.5M294.1,731.9L294.8,740.5M298.6,732.6L299,741.7M303,733L302.9,742.8M307.8,733.4L308,744M312.8,733.8L313.6,744M317.5,734.2L317.8,744M321.6,734.5L322.7,744M325.6,734.8L325.6,744M330.3,735.2L330.2,744M334.6,735.6L335.5,744M338.9,735.9L339.8,744M343.8,735.9L344.1,744.3M348.5,735.9L348.7,744.6M353.6,735.8L353.5,745M357.8,735.7L358,745.3M362,735.6L362.3,745.6M366.3,735.6L366.7,745.9M371.1,735.6L372.2,746.1M376.2,735.8L377.3,745.9M380.7,736.1L380.9,745.6M385.3,736.3L385.8,745.4M389.6,736.5L390.6,745.2M394.7,736.8L394.7,744.6M399.3,737L399.8,743.9M404.3,737.3L404.4,743.2M408.8,737.5L409.4,742.5M413,737.7L413.5,741.9M418.2,738L418.2,741M422.5,738.2L422.5,740.4M426.9,738.4L426.9,739.7" stroke-width="1.3" stroke-linecap="butt"/>
<path d="M60,743.8L60,754M65,743.6L65.8,753.6M69.2,743.3L69.2,753.3M73.2,743.1L73.8,753M77.3,742.9L78.5,752.8M81.1,742.7L81.8,752.5M86.1,742.4L86.6,752.1M90.5,742.2L90.9,751.8M95.3,741.9L95.2,751.5M100.3,741.6L100.1,751.1M104.6,741.4L105.5,750.8M109.3,741.1L110.1,750.5M113.1,740.9L113,750.2M117.1,740.7L117.6,749.9M122.2,740.4L122.5,749.6M127.2,740.2L127.8,749.2M131.5,739.9L132.3,748.9M136.2,739.5L136.8,748.7M140.6,739.1L141.4,748.5M144.6,738.8L144.8,748.3M149.4,738.4L150.3,748M153.9,738L155,747.8M158.6,737.6L159.1,747.6M163.6,737.2L164.2,747.3M168.1,736.8L168.8,747.1M172,736.5L172.3,746.9M176.3,736.1L176.8,746.7M180.3,735.8L181.3,746.5M185.2,735.4L185.5,746.2M189.4,735.1L190.5,746M193.4,735.1L194,746M197.6,735.2L197.8,745.9M201.5,735.3L202.4,745.9M205.5,735.3L206.6,745.8M210.4,735.5L211.4,745.8M214.4,735.5L214.7,745.7M218.5,735.6L218.7,745.7M223.2,735.7L224.4,745.6M227.7,735.8L227.8,745.6M231.9,735.9L232.2,745.5M237.1,736L237.2,745.5M241.7,736.1L242.3,745.4M246.6,736.3L247.4,745.4M251.2,736.4L251.1,745.3M255.2,736.4L255.6,745.3M259.8,736.6L260.7,745.2M264,736.6L264.1,745.2M269.1,736.8L269.3,745.1M273.6,736.9L273.8,745.1M278.3,737L279.2,745M282.9,737.7L283.2,745.9M287.6,738.9L288.2,747.3M292.1,740L293,748.7M296.5,741.1L297.1,750.1M300.4,742.1L300.5,751.3M304.8,743.2L304.9,752.6M308.8,744L309.4,753.6M313.4,744L314.2,753.9M318.1,744L318.9,754.1M322.1,744L323.3,754.3M326.2,744L326.2,754.5M331.2,744L331.5,754.8M335.6,744L336.3,755M340.5,744L341.6,755.2M345,744.4L345.3,754.8M349.7,744.7L350.4,754.5M353.9,745L354.2,754.2M358.9,745.4L359.5,753.8M363.9,745.8L364.6,753.4M368.4,746.1L368.5,753.1M373.1,746L373,752.4M377.9,745.8L378.2,751.5M382.9,745.5L383.2,750.5M387.2,745.3L387.1,749.7M392,745L392.3,748.8M396.4,744.3L396.4,747.9M400.8,743.7L401,746.9M405.7,742.9L405.9,745.9M410.5,742.2L410.8,744.9M414.4,741.6L414.7,743.9M419.5,740.8L419.7,742.7M424.2,740.1L424.2,741.6M428.2,739.5L428.3,740.6" stroke-width="1.3" stroke-linecap="butt"/>
<path d="M63.5,705 C71.9,704.8 102.9,704.5 114,704 C125.1,703.5 120.7,703 130,702 C139.3,701 156.7,699.2 170,698 C183.3,696.8 195,695.2 210,695 C225,694.8 243.7,696.4 260,696.8 C276.3,697.2 294.7,698.7 308,697.6 C321.3,696.5 329.3,693.2 340,690.4 C350.7,687.6 365.1,683.6 372,680.8 C378.9,678 380,674.7 381.6,673.5" stroke-width="1.3"/>
<path d="M63.5,718.5 C74.6,718.1 108.9,716.6 130,716 C151.1,715.4 168.3,715.8 190,715 C211.7,714.2 243,711.7 260,711.2 C277,710.7 281.3,712.7 292,712 C302.7,711.3 314.7,709.3 324,707.2 C333.3,705.1 340,702.9 348,699.2 C356,695.5 366.4,689.1 372,684.8 C377.6,680.5 380,675.4 381.6,673.5" stroke-width="1.3"/>
<path d="M63.5,718.5 C74.6,718.1 108.9,716.6 130,716 C151.1,715.4 168.3,715.5 190,715 C211.7,714.5 241.7,712.2 260,712.8 C278.3,713.4 286.7,716.5 300,718.4 C313.3,720.3 328.3,722.5 340,724 C351.7,725.5 360.6,727.7 370,727.5 C379.4,727.3 389.9,724.7 396.7,722.7 C403.4,720.7 407.1,717.6 410.5,715.3 C413.9,713 414.5,712 416.9,708.9 C419.3,705.8 423.6,698.6 424.9,696.6" stroke-width="1.3"/>
<path d="M57,731.8 C69.2,731.7 107.8,732.1 130,731 C152.2,729.9 173.3,726 190,725 C206.7,724 218.3,724.8 230,725 C241.7,725.2 248.3,725.1 260,726.4 C271.7,727.7 286.7,731.2 300,732.8 C313.3,734.4 328.3,735.6 340,736 C351.7,736.4 361.4,735.8 370,735 C378.6,734.2 386,733.2 391.3,731.3 C396.6,729.4 398.4,726.6 402,723.8 C405.6,720.9 410.9,715.8 412.7,714.2" stroke-width="1.3"/>
<path d="M57,731.8 C69.2,731.7 107.8,732.1 130,731 C152.2,729.9 173.3,726 190,725 C206.7,724 218.3,724.8 230,725 C241.7,725.2 248.3,725.1 260,726.4 C271.7,727.7 286.7,731.2 300,732.8 C313.3,734.4 328.3,735.5 340,736 C351.7,736.5 361.5,735.4 370,735.5 C378.5,735.6 384,736.2 391,736.6 C398,737 404.8,737.4 412,737.7 C419.2,738.1 428.9,739.3 434,738.7 C439.1,738.1 441.1,734.8 442.5,734" stroke-width="1.3"/>
<path d="M57,744 C69.2,743.3 107.8,741.5 130,740 C152.2,738.5 165,735.5 190,735 C215,734.5 260.3,735.5 280,737 C299.7,738.5 298,742.8 308,744 C318,745.2 329.7,743.6 340,744 C350.3,744.4 361.4,746 370,746.2 C378.6,746.4 384.2,745.8 391.3,745.1 C398.4,744.4 404.7,743.1 412.7,741.9 C420.7,740.7 434.9,738.4 439.3,737.7" stroke-width="1.3"/>
<path d="M57,754.2 C69.2,753.3 107.8,750.4 130,749 C152.2,747.6 165,746.7 190,746 C215,745.3 260.3,743.7 280,745 C299.7,746.3 298,751.9 308,753.6 C318,755.3 329.7,755.3 340,755.2 C350.3,755.1 361.5,754 370,753 C378.5,752 384.3,750.3 391,749 C397.7,747.7 402,746.8 410,745 C418,743.2 434.2,739.2 439,738" stroke-width="1.3"/>
<line x1="63.5" y1="705" x2="63.5" y2="718.5" stroke-width="1.2"/>
<path d="M346,698 C347.7,696.9 352.7,692.6 356,691.5 C359.3,690.4 360.3,690.7 366,691.2 C371.7,691.7 380.2,693.5 390,694.4 C399.8,695.3 419.1,696.2 424.9,696.6" stroke-width="1.2"/>
<path d="M344,701 C345,700.7 345.7,699.5 350,699.2 C354.3,698.9 363.1,698.8 370,699.3 C376.9,699.8 382.8,702.1 391.3,701.9 C399.8,701.7 415.6,699.1 421.2,698.2 C426.8,697.3 424.3,696.9 424.9,696.6" stroke-width="1.2"/>
<path d="M412.7,714.2 C415.4,715.6 423.7,719.5 428.7,722.7 C433.7,725.9 440.2,731.6 442.5,733.4" stroke-width="1.2"/>
<path d="M399.9,725.9 C402.9,726.6 412.3,728.4 418,730.2 C423.7,732 429.9,736.1 434,736.6 C438.1,737.1 441.1,733.9 442.5,733.4" stroke-width="1.2"/>
<line x1="173.8" y1="716.2" x2="185.8" y2="725" stroke-width="1.3"/>
<line x1="182.6" y1="715.4" x2="177" y2="725.8" stroke-width="1.3"/>
</g>
<g>
<text x="6.4" y="66.5" font-size="14" font-weight="normal" font-style="normal" letter-spacing="-0.87">5</text>
<text x="24" y="66.5" font-size="14" font-weight="normal" font-style="normal" letter-spacing="0.56">μm</text>
<text x="100.6" y="161.2" font-size="14" font-weight="normal" font-style="normal" letter-spacing="1.15">Spores of</text>
<text x="181.4" y="160.8" font-size="14" font-weight="bold" font-style="italic" letter-spacing="0.28">Heterobasidion</text>
<text x="206.2" y="175.9" font-size="14" font-weight="bold" font-style="italic" letter-spacing="-0.15">annosum</text>
<text x="665" y="76.1" font-size="14" font-weight="normal" font-style="normal" letter-spacing="0.00">18</text>
<text x="687.3" y="76.1" font-size="14" font-weight="normal" font-style="normal" letter-spacing="-0.04">μm</text>
<text x="388.8" y="198.2" font-size="14" font-weight="normal" font-style="normal" letter-spacing="0.75">Spores of</text>
<text x="462.1" y="198.2" font-size="14" font-weight="bold" font-style="italic" letter-spacing="0.27">Fomes fomentarius</text>
<text x="8.8" y="296.1" font-size="14" font-weight="normal" font-style="normal" letter-spacing="-1.17">5</text>
<text x="24.2" y="296.1" font-size="14" font-weight="normal" font-style="normal" letter-spacing="0.06">μm</text>
<text x="54" y="397.3" font-size="14" font-weight="normal" font-style="normal" letter-spacing="-0.08">Spores</text>
<text x="209.4" y="485.5" font-size="14" font-weight="normal" font-style="normal" letter-spacing="0.55">Cystidia</text>
<text x="47.7" y="500.9" font-size="14" font-weight="normal" font-style="normal" letter-spacing="-1.97">8</text>
<text x="59" y="500.9" font-size="14" font-weight="normal" font-style="normal" letter-spacing="1.06">μm</text>
<text x="196.6" y="551.2" font-size="14" font-weight="bold" font-style="italic" letter-spacing="0.07">Phellinus igniarius</text>
<text x="667.4" y="402" font-size="14" font-weight="normal" font-style="normal" letter-spacing="-2.17">5</text>
<text x="679" y="402" font-size="14" font-weight="normal" font-style="normal" letter-spacing="0.76">μm</text>
<text x="612.4" y="454.8" font-size="14" font-weight="normal" font-style="normal" letter-spacing="0.10">Spores</text>
<text x="427.2" y="566.3" font-size="14" font-weight="normal" font-style="normal" letter-spacing="0.00">20</text>
<text x="449.5" y="566.3" font-size="14" font-weight="normal" font-style="normal" letter-spacing="1.06">μm</text>
<text x="654" y="527" font-size="14" font-weight="normal" font-style="normal" letter-spacing="0.32">cystidia</text>
<text x="713" y="527" font-size="14" font-weight="normal" font-style="normal" letter-spacing="1.31">one</text>
<text x="652.1" y="543" font-size="14" font-weight="normal" font-style="normal" letter-spacing="1.34">with</text>
<text x="690" y="543" font-size="14" font-weight="normal" font-style="normal" letter-spacing="0.51">crystals</text>
<text x="669" y="559" font-size="14" font-weight="normal" font-style="normal" letter-spacing="1.31">at</text>
<text x="691" y="559" font-size="14" font-weight="normal" font-style="normal" letter-spacing="0.21">apex</text>
<text x="547.4" y="701" font-size="14" font-weight="normal" font-style="normal" letter-spacing="0.33">Spores and cystidia of</text>
<text x="548.3" y="715.4" font-size="14" font-weight="bold" font-style="italic" letter-spacing="0.26">Oxyporus populinus</text>
<text x="264" y="626.3" font-size="14" font-weight="normal" font-style="normal" letter-spacing="1.08">Section of</text>
<text x="216.5" y="642.3" font-size="14" font-weight="bold" font-style="italic" letter-spacing="0.17">Heterobasidion annosum</text>
<text x="223.4" y="773.8" font-size="14" font-weight="normal" font-style="normal" letter-spacing="0.82">Note several</text>
<text x="215.8" y="789.2" font-size="14" font-weight="normal" font-style="normal" letter-spacing="0.89">layers of tubes</text>
<text x="165" y="972.5" font-size="14" font-weight="normal" font-style="normal" letter-spacing="0.00">Spores</text>
<text x="318" y="869.9" font-size="14" font-weight="normal" font-style="normal" letter-spacing="-0.77">4</text>
<text x="329" y="869.9" font-size="14" font-weight="normal" font-style="normal" letter-spacing="0.66">μm</text>
<text x="296.5" y="994.7" font-size="14" font-weight="normal" font-style="normal" letter-spacing="0.38">cystidia</text>
<text x="402.5" y="822.5" font-size="14" font-weight="normal" font-style="normal" letter-spacing="0.00">10</text>
<text x="422" y="822.5" font-size="14" font-weight="normal" font-style="normal" letter-spacing="0.86">μm</text>
<text x="547.9" y="924.9" font-size="14" font-weight="normal" font-style="normal" letter-spacing="0.32">Spores and cystidia of</text>
<text x="559.3" y="941.3" font-size="14" font-weight="bold" font-style="italic" letter-spacing="0.56">Cryptoderma pini</text>
</g>
</svg>
</body></html>
